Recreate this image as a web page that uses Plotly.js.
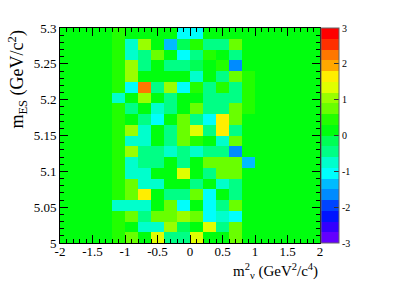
<!DOCTYPE html>
<html>
<head>
<meta charset="utf-8">
<script src="https://cdn.plot.ly/plotly-3.0.1.min.js"></script>
<style>html,body{margin:0;padding:0;background:#fff;}#plot{width:399px;height:286px;}</style>
</head>
<body>
<div id="plot"></div>
<script>
// Bin layout of the 2D histogram (20 x 20 bins)
var xFirstCenter = -1.9, xBinWidth = 0.2;
var yFirstCenter = 5.0075, yBinWidth = 0.015;

// Bin contents, rows listed from top (m_ES = 5.3) to bottom (m_ES = 5.0)
var zRowsTopDown = [
  [0,0,0,0, 0.42, 0.10, 0.15, 0.08, 0.12,-1.05,-1.10, 0.10, 0.05, 0.14, 0.06, 0,0,0,0,0],
  [0,0,0,0, 0.44,-0.78, 1.02, 0.11,-1.38,-0.16, 0.40,-0.46,-0.50, 0.76, 0.09, 0,0,0,0,0],
  [0,0,0,0, 0.47,-0.72,-0.44, 0.72, 0.16,-1.02,-0.52, 0.38, 0.13,-0.41, 0.07, 0,0,0,0,0],
  [0,0,0,0, 0.43, 1.08,-0.48, 0.18,-0.47,-0.43,-0.14, 0.09, 0.46,-1.69, 0.11, 0,0,0,0,0],
  [0,0,0,0, 0.45, 1.04, 0.20, 0.12, 0.06, 0.17,-0.77, 0.14,-0.44, 0.79, 0.41, 0,0,0,0,0],
  [0,0,0,0, 0.41,-1.06, 2.28,-0.49, 1.10,-1.08, 0.39,-0.45, 0.43,-0.42, 0.44, 0,0,0,0,0],
  [0,0,0,0,-0.76, 0.13, 1.01, 0.08,-0.50, 0.19, 0.10,-0.43,-0.47,-0.46, 0.38, 0,0,0,0,0],
  [0,0,0,0, 0.46,-0.46, 0.15,-0.74,-0.44, 0.12, 0.77,-0.41,-0.48, 0.73, 0.42, 0,0,0,0,0],
  [0,0,0,0, 0.44, 0.09,-0.45,-1.04, 0.16, 0.74,-0.47,-1.07, 1.68, 0.78, 0.08, 0,0,0,0,0],
  [0,0,0,0, 0.40, 1.06,-0.79, 0.10,-0.43, 0.71, 1.38,-0.44, 1.72,-0.46, 0.12, 0,0,0,0,0],
  [0,0,0,0, 0.48,-0.75,-0.72, 0.14,-0.46, 0.80, 0.42, 0.11,-0.77, 0.75, 0.10, 0,0,0,0,0],
  [0,0,0,0, 0.42, 1.03,-0.42,-0.47,-0.74,-0.45,-0.73,-0.48,-0.44,-1.66, 0.15, 0,0,0,0,0],
  [0,0,0,0, 0.45,-0.78,-0.46,-0.43, 0.07,-0.45, 0.18, 0.73, 0.77, 0.72,-1.36, 0,0,0,0,0],
  [0,0,0,0, 0.43,-0.73,-0.76, 0.12, 0.16, 1.34, 0.09,-0.47, 0.74, 0.78, 0.13, 0,0,0,0,0],
  [0,0,0,0, 0.47, 0.76,-0.74,-0.79, 0.11, 0.14,-0.44, 0.17,-0.76,-0.45, 0.06, 0,0,0,0,0],
  [0,0,0,0, 0.44, 0.73, 1.66, 0.10,-0.48,-0.42, 0.79,-1.03, 0.15,-0.47, 0.09, 0,0,0,0,0],
  [0,0,0,0,-0.77,-0.73,-0.75, 0.13, 0.72,-1.09, 0.16,-1.01,-0.46, 0.76, 0.12, 0,0,0,0,0],
  [0,0,0,0, 0.41, 0.78,-0.44, 0.74, 0.71, 1.04, 0.77,-1.06,-0.72,-1.04, 0.10, 0,0,0,0,0],
  [0,0,0,0, 0.46, 0.14,-0.76,-0.78, 1.07,-0.16, 0.11, 1.36,-0.43, 0.75, 0.08, 0,0,0,0,0],
  [0,0,0,0, 0.42, 0.77, 0.15, 1.33,-0.47,-0.44, 1.37, 0.12, 0.06, 0.79, 0.14, 0,0,0,0,0]
];

// Tick labels
var xTickVals = [-2, -1.5, -1, -0.5, 0, 0.5, 1, 1.5, 2];
var xTickText = ["-2", "-1.5", "-1", "-0.5", "0", "0.5", "1", "1.5", "2"];
var yTickVals = [5, 5.05, 5.1, 5.15, 5.2, 5.25, 5.3];
var yTickText = ["5", "5.05", "5.1", "5.15", "5.2", "5.25", "5.3"];
var zTickVals = [-3, -2, -1, 0, 1, 2, 3];
var zTickText = ["-3", "-2", "-1", "0", "1", "2", "3"];
var zMin = -3, zMax = 3;

// ROOT-like 20-level rainbow palette
var palette = [
  "rgb(99,0,255)","rgb(51,0,255)","rgb(0,20,255)","rgb(0,68,255)","rgb(0,139,255)",
  "rgb(0,187,255)","rgb(0,255,252)","rgb(0,255,204)","rgb(0,255,133)","rgb(0,255,85)",
  "rgb(0,255,14)","rgb(34,255,0)","rgb(105,255,0)","rgb(153,255,0)","rgb(224,255,0)",
  "rgb(255,238,0)","rgb(255,167,0)","rgb(255,119,0)","rgb(255,48,0)","rgb(255,0,0)"
];
var n = palette.length;
var colorscale = [];
for (var k = 0; k < n; k++) {
  colorscale.push([k / n, palette[k]]);
  colorscale.push([k === n - 1 ? 1 : (k + 1) / n - 1e-6, palette[k]]);
}

var zRows = zRowsTopDown.slice().reverse();
var serif = "Liberation Serif, Times New Roman, serif";

var trace = {
  type: "heatmap",
  z: zRows,
  x0: xFirstCenter, dx: xBinWidth,
  y0: yFirstCenter, dy: yBinWidth,
  zmin: zMin, zmax: zMax,
  zsmooth: false,
  colorscale: colorscale,
  hoverinfo: "skip",
  colorbar: {
    x: 1.004, xanchor: "left", xpad: 0,
    y: 0.5, yanchor: "middle", ypad: 0,
    len: 1, lenmode: "fraction",
    thickness: 18, thicknessmode: "pixels",
    tickvals: zTickVals, ticktext: zTickText,
    ticks: "inside", ticklen: 5, tickcolor: "#333", tickwidth: 1,
    tickfont: {family: serif, size: 10, color: "#000"},
    outlinewidth: 1, outlinecolor: "#666"
  }
};

var axisCommon = {
  showgrid: false, zeroline: false,
  showline: true, linecolor: "#000", linewidth: 1, mirror: "ticks",
  ticks: "inside", ticklen: 8, tickcolor: "#000", tickwidth: 1,
  tickfont: {family: serif, size: 13, color: "#000"},
  tickmode: "array"
};

var layout = {
  width: 399, height: 286,
  margin: {l: 60, r: 79, t: 28, b: 43, pad: 0},
  paper_bgcolor: "#fff", plot_bgcolor: "rgb(0,255,14)",
  showlegend: false,
  xaxis: Object.assign({}, axisCommon, {
    range: [-2, 2], tickvals: xTickVals, ticktext: xTickText,
    ticklabelstandoff: -4,
    minor: {ticks: "inside", dtick: 0.1, tick0: 0, ticklen: 4, tickcolor: "#000", tickwidth: 1}
  }),
  yaxis: Object.assign({}, axisCommon, {
    range: [5, 5.3], tickvals: yTickVals, ticktext: yTickText,
    minor: {ticks: "inside", dtick: 0.01, tick0: 5, ticklen: 4, tickcolor: "#000", tickwidth: 1}
  }),
  annotations: [
    {
      text: "m<sup>2</sup><sub>ν</sub> (GeV<sup>2</sup>/c<sup>4</sup>)",
      xref: "paper", yref: "paper", x: 1, y: -0.13,
      xanchor: "right", yanchor: "middle", showarrow: false,
      font: {family: serif, size: 15, color: "#000"}
    },
    {
      text: "m<sub>ES</sub> (GeV/c<sup>2</sup>)",
      xref: "paper", yref: "paper", x: -0.165, y: 1.0,
      xanchor: "center", yanchor: "top", textangle: -90, showarrow: false,
      font: {family: serif, size: 18, color: "#000"}
    }
  ]
};

Plotly.newPlot("plot", [trace], layout, {staticPlot: true, displayModeBar: false});
</script>
</body>
</html>
